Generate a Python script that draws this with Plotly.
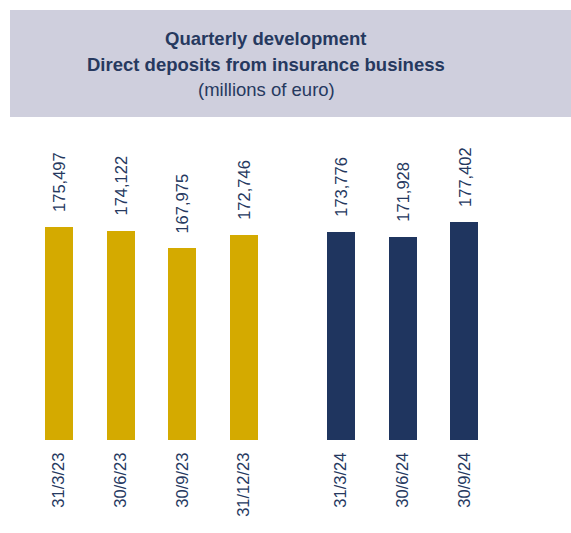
import plotly.graph_objects as go

# ---- data ----
dates = ["31/3/23", "30/6/23", "30/9/23", "31/12/23", "31/3/24", "30/6/24", "30/9/24"]
values = [175497, 174122, 167975, 172746, 173776, 171928, 177402]
years = [2023, 2023, 2023, 2023, 2024, 2024, 2024]
title_lines = ["Quarterly development", "Direct deposits from insurance business", "(millions of euro)"]

# ---- styling ----
W, H = 571, 533
GOLD = "#d4aa00"
NAVY = "#1f355f"
TEXT = "#26395f"
BOX = "#cfcfdd"
FONT = "Liberation Sans, Arial, sans-serif"
GROUP_GAP = 0.57

# x positions: index, with extra gap for the second year group
xpos = [i + (GROUP_GAP if y == 2024 else 0) for i, y in enumerate(years)]
colors = [GOLD if y == 2023 else NAVY for y in years]

fig = go.Figure()
fig.add_trace(go.Bar(
    x=xpos, y=values, marker=dict(color=colors, line=dict(width=0)),
    width=0.455, hoverinfo="skip",
))

# value labels, rotated
for xp, v in zip(xpos, values):
    fig.add_annotation(
        x=xp, y=v, xref="x", yref="y", text=f"{v:,}", textangle=-90,
        showarrow=False, xanchor="center", yanchor="bottom", yshift=13,
        font=dict(family=FONT, size=16.5, color=TEXT),
    )

# header box
fig.add_shape(type="rect", xref="paper", yref="paper",
              x0=10 / W, x1=1.0, y0=1 - 117 / H, y1=1 - 10 / H,
              fillcolor=BOX, line=dict(width=0), layer="below")

title_y = [39, 64, 89]
for i, (t, yy) in enumerate(zip(title_lines, title_y)):
    fig.add_annotation(
        x=266 / W, y=1 - yy / H, xref="paper", yref="paper",
        text=f"<b>{t}</b>" if i < 2 else t, showarrow=False,
        xanchor="center", yanchor="middle",
        font=dict(family=FONT, size=18.5, color=TEXT),
    )

# axes geometry
base_px, top_px = 440, 130
scale = 0.002822  # px per unit
y0 = 100000
y1 = y0 + (base_px - top_px) / scale
px_per_slot = 61.7
r0 = -59 / px_per_slot
r1 = r0 + W / px_per_slot

fig.update_layout(
    width=W, height=H, margin=dict(l=0, r=0, t=0, b=0),
    paper_bgcolor="white", plot_bgcolor="rgba(0,0,0,0)",
    showlegend=False, bargap=0,
    xaxis=dict(range=[r0, r1], domain=[0, 1], tickmode="array", tickvals=xpos,
               ticktext=dates, tickangle=-90, showgrid=False, zeroline=False,
               showline=False, ticks="outside", ticklen=5, tickcolor="rgba(0,0,0,0)",
               tickfont=dict(family=FONT, size=16.5, color=TEXT), fixedrange=True),
    yaxis=dict(range=[y0, y1], domain=[1 - base_px / H, 1 - top_px / H],
               visible=False, fixedrange=True),
)

fig.write_html("out.html", config={"displayModeBar": False},
               post_script="document.body.style.margin='0';document.body.style.overflow='hidden';")
